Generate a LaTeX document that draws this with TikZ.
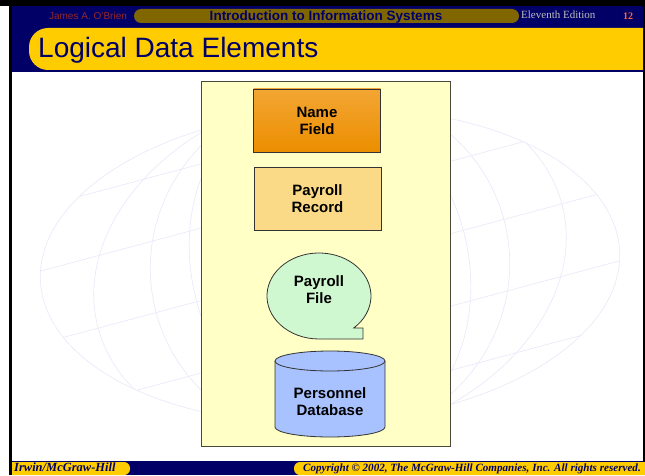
\documentclass[tikz,border=0pt]{standalone}
\usepackage{fontspec}
\setmainfont{Liberation Serif}
\setsansfont{Liberation Sans}

\definecolor{navy}{RGB}{0,0,102}
\definecolor{gold}{RGB}{255,204,0}
\definecolor{olivepill}{RGB}{128,102,0}
\definecolor{authorred}{RGB}{150,40,40}
\definecolor{pagered}{RGB}{255,102,51}
\definecolor{panelfill}{RGB}{255,255,198}
\definecolor{panelline}{RGB}{72,72,60}
\definecolor{fieldtop}{RGB}{243,166,52}
\definecolor{fieldbot}{RGB}{236,142,0}
\definecolor{recordfill}{RGB}{250,218,134}
\definecolor{filefill}{RGB}{208,248,208}
\definecolor{dbfill}{RGB}{168,194,255}
\definecolor{globeline}{RGB}{232,232,250}

\begin{document}
\begin{tikzpicture}[
  x=1pt, y=1pt,
  every node/.style={inner sep=0pt},
  elembox/.style={draw=black!80, line width=0.8pt, minimum width=127, minimum height=63,
    align=center, font=\fontsize{15}{17}\selectfont\sffamily\bfseries},
  elemtext/.style={align=center, font=\fontsize{15}{17}\selectfont\sffamily\bfseries},
  elemline/.style={draw=black!80, line width=0.8pt},
  globegrid/.style={draw=globeline, line width=0.6pt}
]
\useasboundingbox (0,0) rectangle (645,475);
\fill[white] (0,0) rectangle (645,475);

% faint globe behind the slide
\begin{scope}
  \clip[rotate around={3:(330,209)}] (330,209) ellipse [x radius=290, y radius=157];
  \begin{scope}[shift={(330,209)}, rotate=15]
    \foreach \lat in {-132,-70,0,70,132}
      \draw[globegrid] (-320,\lat) -- (320,\lat);
    \foreach \rx in {240,180,138}
      \draw[globegrid] (0,0) ellipse [x radius=\rx, y radius=175];
  \end{scope}
\end{scope}
\draw[globegrid, rotate around={3:(330,209)}] (330,209) ellipse [x radius=290, y radius=157];

% frame, header and footer
\fill[black] (0,469) rectangle (645,475);
\fill[black] (9,0) rectangle (12,475);
\fill[black] (643,0) rectangle (645,475);
\fill[navy] (12,403) rectangle (643,469);
\fill[navy] (12,0) rectangle (643,14);
\fill[olivepill, rounded corners=7pt] (134,452) rectangle (519,466);
\fill[gold] (643,447) [rounded corners=19pt] -- (29,447) -- (29,405) [sharp corners] -- (643,405) -- cycle;
\fill[gold] (12,0) [rounded corners=6pt] -- (130,0) -- (130,13) [sharp corners] -- (12,13) -- cycle;
\fill[gold] (645,0) [rounded corners=6pt] -- (294,0) -- (294,13) [sharp corners] -- (645,13) -- cycle;

\node[anchor=base, text=authorred, font=\fontsize{10}{12}\selectfont\sffamily] (author) at (88,455) {James A. O'Brien};
\node[anchor=base, text=navy, font=\fontsize{13.5}{15}\selectfont\sffamily\bfseries] (course) at (326,454) {Introduction to Information Systems};
\node[anchor=base west, text=black!25, font=\fontsize{11}{13}\selectfont] (edition) at (521,456) {Eleventh Edition};
\node[anchor=base, text=pagered, font=\fontsize{10}{12}\selectfont\bfseries] (page) at (628,455) {12};
\node[anchor=base west, text=navy, font=\fontsize{28}{32}\selectfont\sffamily] (title) at (38,417) {Logical Data Elements};
\node[anchor=base west, text=navy, font=\fontsize{12.5}{14}\selectfont\bfseries\itshape] (publisher) at (14,3.5) {Irwin/McGraw-Hill};
\node[anchor=base east, text=navy, font=\fontsize{11.1}{13}\selectfont\bfseries\itshape] (copyright) at (641,3.5) {Copyright \textcopyright{} 2002, The McGraw-Hill Companies, Inc. All rights reserved.};

% the panel with the four elements
\node[draw=panelline, fill=panelfill, line width=1pt, minimum width=249, minimum height=364] (panel) at (325.5,211) {};

\node[elembox, top color=fieldtop, bottom color=fieldbot] (field) at (317,354.5) {Name\\Field};
\node[elembox, fill=recordfill] (record) at (317.5,276.5) {Payroll\\Record};

\filldraw[fill=filefill, elemline]
  (353.7,147) arc[start angle=-48.1, end angle=270, x radius=52, y radius=43]
  -- (363,136) -- (363,147) -- cycle;
\node[elemtext] (file) at (319,185) {Payroll\\File};

\filldraw[fill=dbfill, elemline]
  (275,114) -- (275,48) arc[start angle=180, end angle=360, x radius=55, y radius=10]
  -- (385,114) arc[start angle=0, end angle=180, x radius=55, y radius=10] -- cycle;
\draw[elemline] (275,114) arc[start angle=180, end angle=360, x radius=55, y radius=10];
\node[elemtext] (db) at (330,73) {Personnel\\Database};
\end{tikzpicture}
\end{document}
